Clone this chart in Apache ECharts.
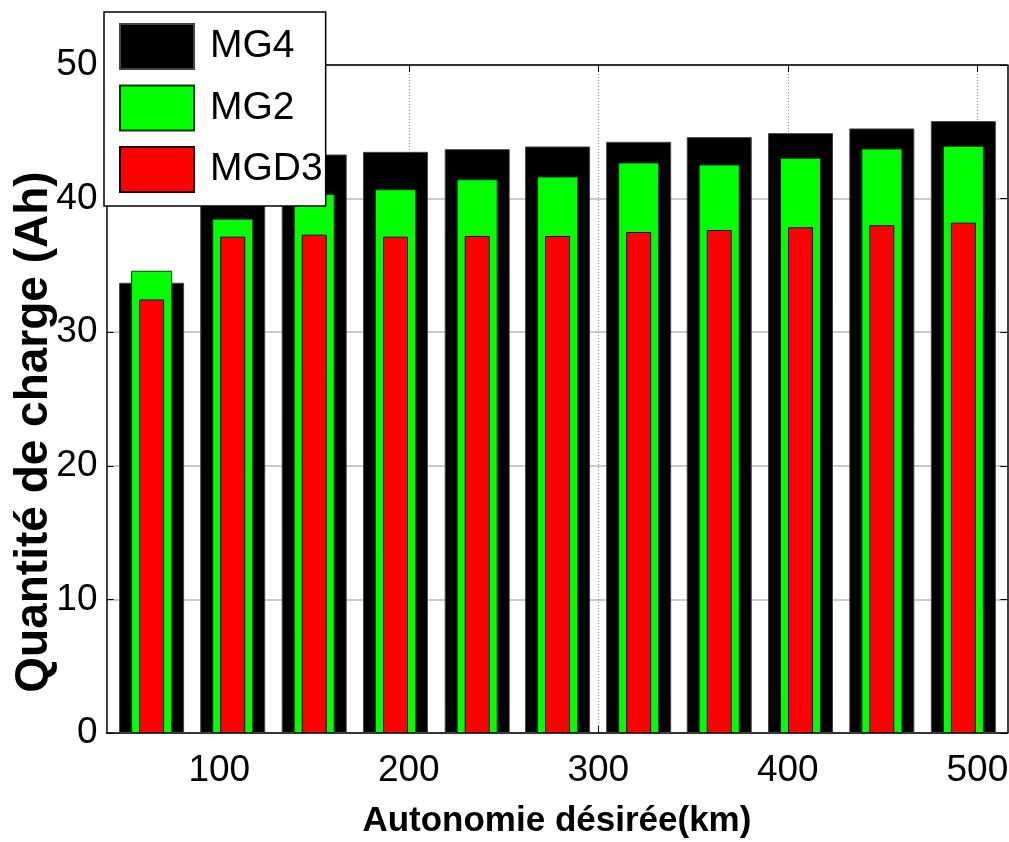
<!DOCTYPE html>
<html><head><meta charset="utf-8">
<script src="https://cdn.jsdelivr.net/npm/echarts@6/dist/echarts.min.js"></script>
<style>html,body{margin:0;padding:0;background:#fff}#c{width:1009px;height:842px}</style>
</head><body><div id="c"></div>
<script>
// positions of the 11 bar groups along the "Autonomie désirée (km)" axis
const autonomie = [64.3, 107.1, 150.1, 193.0, 236.1, 278.5, 321.3, 363.8, 406.7, 449.6, 492.6];
const mg4  = [33.7, 43.1, 43.3, 43.5, 43.7, 43.9, 44.25, 44.6, 44.9, 45.25, 45.8];
const mg2  = [34.6, 38.5, 40.35, 40.7, 41.45, 41.65, 42.7, 42.55, 43.05, 43.75, 43.95];
const mgd3 = [32.45, 37.15, 37.3, 37.15, 37.2, 37.2, 37.5, 37.65, 37.85, 38.0, 38.2];
const xTicks = [100, 200, 300, 400, 500];
const seriesNames = ['MG4', 'MG2', 'MGD3'];
const xTitle = 'Autonomie désirée(km)';
const yTitle = 'Quantité de charge (Ah)';

const SANS = '"Liberation Sans", Arial, Helvetica, sans-serif';
const X_MIN = 40.5, X_MAX = 515.8;

function pairs(vals) { return vals.map((v, i) => [autonomie[i], v]); }

const chart = echarts.init(document.getElementById('c'), null, {renderer: 'canvas'});
const hiddenX = {type: 'value', min: X_MIN, max: X_MAX, show: false, position: 'bottom'};
chart.setOption({
  animation: false,
  backgroundColor: '#fff',
  grid: {left: 106.5, right: 1.7, top: 65, bottom: 109, containLabel: false, outerBoundsMode: 'none'},
  xAxis: [
    {
      type: 'value', min: X_MIN, max: X_MAX, position: 'bottom', z: 1,
      axisLine: {show: true, onZero: false, lineStyle: {color: '#000', width: 1.5}},
      axisTick: {show: true, inside: true, length: 7, customValues: xTicks, lineStyle: {color: '#000'}},
      axisLabel: {customValues: xTicks, fontSize: 37, fontFamily: SANS, color: '#000', margin: 19},
      splitLine: {show: true, lineStyle: {color: '#8a8a8a', type: [1, 2], width: 1}},
      name: xTitle, nameLocation: 'middle', nameGap: 71,
      nameTextStyle: {fontSize: 35, fontWeight: 'bold', fontFamily: SANS, color: '#000'}
    },
    Object.assign({}, hiddenX),
    Object.assign({}, hiddenX),
    {
      type: 'value', min: X_MIN, max: X_MAX, position: 'top', z: 1,
      axisLine: {show: true, onZero: false, lineStyle: {color: '#000', width: 1.5}},
      axisTick: {show: true, inside: true, length: 7, customValues: xTicks, lineStyle: {color: '#000'}},
      axisLabel: {show: false}, splitLine: {show: false}
    }
  ],
  yAxis: [
    {
      type: 'value', min: 0, max: 50, interval: 10, position: 'left',
      axisLine: {show: true, onZero: false, lineStyle: {color: '#000', width: 1.5}},
      axisTick: {show: true, inside: true, length: 7, lineStyle: {color: '#000'}},
      axisLabel: {fontSize: 37, fontFamily: SANS, color: '#000', margin: 9},
      splitLine: {show: true, lineStyle: {color: '#b8b8b8', width: 1.5}}
    },
    {
      type: 'value', min: 0, max: 50, interval: 10, position: 'right',
      axisLine: {show: true, onZero: false, lineStyle: {color: '#000', width: 1.5}},
      axisTick: {show: true, inside: true, length: 7, lineStyle: {color: '#000'}},
      axisLabel: {show: false}, splitLine: {show: false}
    }
  ],
  legend: {
    data: seriesNames, orient: 'vertical', left: 104, top: 12,
    backgroundColor: '#fff', borderColor: '#000', borderWidth: 1.5, borderRadius: 0,
    padding: [11, 3, 13, 15], itemWidth: 74, itemHeight: 45, itemGap: 14.5,
    icon: 'rect', z: 10,
    textStyle: {fontSize: 39, fontFamily: SANS, color: '#000', lineHeight: 45, padding: [0, 0, 0, 11]}
  },
  graphic: [{
    type: 'text', x: 34, y: 432, rotation: Math.PI / 2, z: 10,
    style: {text: yTitle, fontSize: 46, fontWeight: 'bold', fontFamily: SANS, fill: '#000',
            align: 'center', verticalAlign: 'middle'}
  }],
  series: [
    {type: 'bar', name: seriesNames[0], xAxisIndex: 0, yAxisIndex: 0, data: pairs(mg4), barWidth: 65,
     itemStyle: {color: '#000', borderColor: '#444', borderWidth: 1}},
    {type: 'bar', name: seriesNames[1], xAxisIndex: 1, yAxisIndex: 0, data: pairs(mg2), barWidth: 41,
     itemStyle: {color: '#00ff00', borderColor: '#0a3a0a', borderWidth: 1}},
    {type: 'bar', name: seriesNames[2], xAxisIndex: 2, yAxisIndex: 0, data: pairs(mgd3), barWidth: 25,
     itemStyle: {color: '#ff0000', borderColor: '#2a0000', borderWidth: 1}}
  ]
});
</script></body></html>
